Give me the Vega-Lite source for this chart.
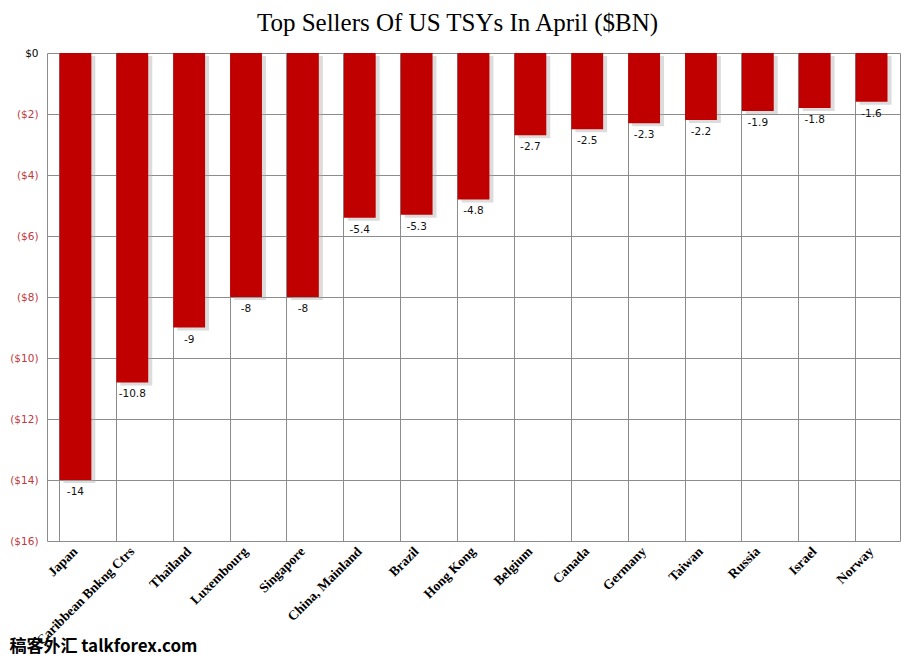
{
  "$schema": "https://vega.github.io/schema/vega-lite/v6.json",
  "width": 853,
  "height": 488,
  "autosize": {"type": "none"},
  "padding": {"left": 47, "top": 53, "right": 16, "bottom": 118},
  "background": "white",
  "title": {
    "text": "Top Sellers Of US TSYs In April ($BN)",
    "font": "Liberation Serif",
    "fontSize": 25,
    "fontWeight": "normal",
    "color": "#000000",
    "anchor": "middle",
    "dx": -16,
    "offset": 12
  },
  "config": {
    "view": {"stroke": null},
    "axis": {"gridColor": "#8c8c8c", "gridWidth": 1, "gridOpacity": 1}
  },
  "data": {
    "values": [
      {"country": "Japan", "value": -14, "label": "-14"},
      {"country": "Caribbean Bnkng Ctrs", "value": -10.8, "label": "-10.8"},
      {"country": "Thailand", "value": -9, "label": "-9"},
      {"country": "Luxembourg", "value": -8, "label": "-8"},
      {"country": "Singapore", "value": -8, "label": "-8"},
      {"country": "China, Mainland", "value": -5.4, "label": "-5.4"},
      {"country": "Brazil", "value": -5.3, "label": "-5.3"},
      {"country": "Hong Kong", "value": -4.8, "label": "-4.8"},
      {"country": "Belgium", "value": -2.7, "label": "-2.7"},
      {"country": "Canada", "value": -2.5, "label": "-2.5"},
      {"country": "Germany", "value": -2.3, "label": "-2.3"},
      {"country": "Taiwan", "value": -2.2, "label": "-2.2"},
      {"country": "Russia", "value": -1.9, "label": "-1.9"},
      {"country": "Israel", "value": -1.8, "label": "-1.8"},
      {"country": "Norway", "value": -1.6, "label": "-1.6"}
    ]
  },
  "encoding": {
    "x": {
      "field": "country",
      "type": "nominal",
      "sort": null,
      "scale": {"paddingInner": 0.44, "paddingOuter": 0.22},
      "axis": {
        "title": "稿客外汇 talkforex.com",
        "titleFont": "Noto Sans CJK SC",
        "titleFontSize": 17,
        "titleFontWeight": "bold",
        "titleColor": "#000000",
        "titleX": -38,
        "titleY": 110,
        "titleAlign": "left",
        "titleBaseline": "alphabetic",
        "titleAngle": 0,
        "labelAngle": -45,
        "labelAlign": "right",
        "labelBaseline": "middle",
        "labelFont": "Liberation Serif",
        "labelFontWeight": "bold",
        "labelFontSize": 13.5,
        "labelColor": "#000000",
        "labelPadding": 8,
        "labelOverlap": false,
        "labelLimit": 200,
        "ticks": false,
        "domain": false,
        "grid": true,
        "bandPosition": 0
      }
    }
  },
  "layer": [
    {
      "mark": {"type": "bar", "color": "#a8a8a8", "opacity": 0.4, "xOffset": 4, "yOffset": 3},
      "encoding": {
        "y": {"field": "value", "type": "quantitative", "scale": {"domain": [-16, 0]}, "axis": null}
      }
    },
    {
      "mark": {"type": "bar", "color": "#c00000"},
      "encoding": {
        "y": {
          "field": "value",
          "type": "quantitative",
          "scale": {"domain": [-16, 0]},
          "axis": {
            "title": null,
            "values": [0, -2, -4, -6, -8, -10, -12, -14, -16],
            "labelExpr": "datum.value == 0 ? '$0' : '($' + abs(datum.value) + ')'",
            "labelColor": {"condition": {"test": "datum.value < 0", "value": "#c0393b"}, "value": "#000000"},
            "labelFont": "DejaVu Sans",
            "labelFontSize": 10.5,
            "labelPadding": 9,
            "ticks": false,
            "domain": true,
            "domainColor": "#8c8c8c",
            "grid": true,
            "gridColor": "#8c8c8c"
          }
        }
      }
    },
    {
      "mark": {"type": "text", "baseline": "top", "dy": 7, "font": "DejaVu Sans", "fontSize": 10.5, "color": "#111111"},
      "encoding": {
        "y": {"field": "value", "type": "quantitative", "scale": {"domain": [-16, 0]}, "axis": null},
        "text": {"field": "label"}
      }
    },
    {
      "mark": {"type": "rule", "opacity": 0},
      "encoding": {
        "y": {
          "field": "value",
          "type": "quantitative",
          "scale": {"domain": [-16, 0]},
          "axis": {"orient": "right", "labels": false, "ticks": false, "grid": false, "domain": true, "domainColor": "#8c8c8c", "title": null}
        }
      }
    }
  ],
  "resolve": {"axis": {"y": "independent"}}
}
